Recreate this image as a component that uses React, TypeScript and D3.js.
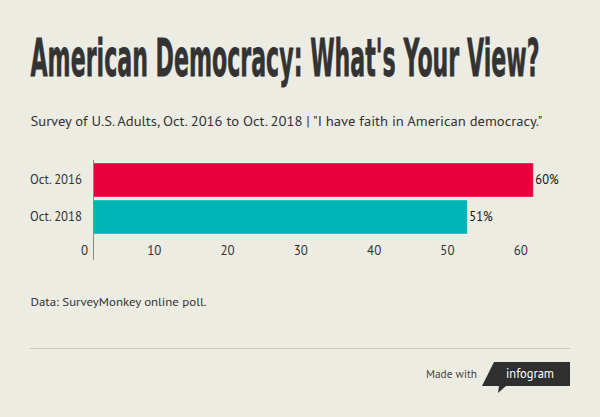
import React from "react";
import * as d3 from "d3";

const categories = ["Oct. 2016", "Oct. 2018"];
const values = [60, 51];
const valueLabels = ["60%", "51%"];
const barColors = ["#e8003d", "#00b5b5"];
const tickValues = [0, 10, 20, 30, 40, 50, 60];

const W = 600;
const H = 417;
const BG = "#edece2";
const TEXT = "#333333";
const SANS = "'PT Sans', 'Open Sans', Roboto, sans-serif";

export default function App() {
  const x = d3.scaleLinear().domain([0, 65]).range([93.5, 570]);
  const y = d3.scaleBand<string>().domain(categories).range([163, 234]).paddingInner(0.081);

  return (
    <svg width={W} height={H} style={{ position: "absolute", left: 0, top: 0, display: "block" }}>
      <rect x={0} y={0} width={W} height={H} fill={BG} />
      <g transform="translate(30.5,75.5) scale(1,2.6)">
        <text
          x={0}
          y={0}
          fontFamily="'DejaVu Sans', sans-serif"
          fontWeight="bold"
          fontSize={20}
          fill={TEXT}
          stroke={TEXT}
          strokeWidth={0.3}
          textLength={509}
          lengthAdjust="spacingAndGlyphs"
        >
          American Democracy: What's Your View?
        </text>
      </g>
      <text
        x={30.5}
        y={126}
        fontFamily={SANS}
        fontSize={13}
        fill={TEXT}
        textLength={512}
        lengthAdjust="spacingAndGlyphs"
      >
        Survey of U.S. Adults, Oct. 2016 to Oct. 2018 | "I have faith in American democracy."
      </text>

      {categories.map((c, i) => (
        <g key={c}>
          <rect
            x={x(0)}
            y={y(c)!}
            width={x(values[i]) - x(0)}
            height={y.bandwidth()}
            fill={barColors[i]}
            stroke="#ffffff"
            strokeOpacity={0.35}
            strokeWidth={1}
          />
          <text
            x={82}
            y={y(c)! + y.bandwidth() / 2}
            dy="0.35em"
            textAnchor="end"
            fontFamily={SANS}
            fontSize={12.5}
            fill={TEXT}
            textLength={52}
            lengthAdjust="spacingAndGlyphs"
          >
            {c}
          </text>
          <text
            x={x(values[i]) + 2}
            y={y(c)! + y.bandwidth() / 2}
            dy="0.35em"
            fontFamily={SANS}
            fontSize={12.5}
            fill="#111"
          >
            {valueLabels[i]}
          </text>
        </g>
      ))}

      <line x1={x(0)} x2={x(0)} y1={160} y2={260} stroke="#8a8a84" strokeWidth={1} />

      {tickValues.map((t) => (
        <text
          key={t}
          x={x(t) - 5.5}
          y={255}
          textAnchor="end"
          fontFamily={SANS}
          fontSize={13}
          fill={TEXT}
        >
          {t}
        </text>
      ))}

      <text
        x={30.5}
        y={306}
        fontFamily={SANS}
        fontSize={12}
        fill={TEXT}
        textLength={176}
        lengthAdjust="spacingAndGlyphs"
      >
        Data: SurveyMonkey online poll.
      </text>

      <line x1={30} x2={570} y1={348.5} y2={348.5} stroke="#c8c8c0" strokeWidth={1} />

      <text x={426} y={378} fontFamily={SANS} fontSize={11.5} fill="#444" textLength={51} lengthAdjust="spacingAndGlyphs">
        Made with
      </text>
      <path d="M494,362 L570,362 L570,386 L506,386 L498,393 L499,386 L482,386 Z" fill="#2f2f2f" />
      <text x={506} y={378} fontFamily={SANS} fontSize={14} fill="#ffffff" textLength={48} lengthAdjust="spacingAndGlyphs">
        infogram
      </text>
    </svg>
  );
}
